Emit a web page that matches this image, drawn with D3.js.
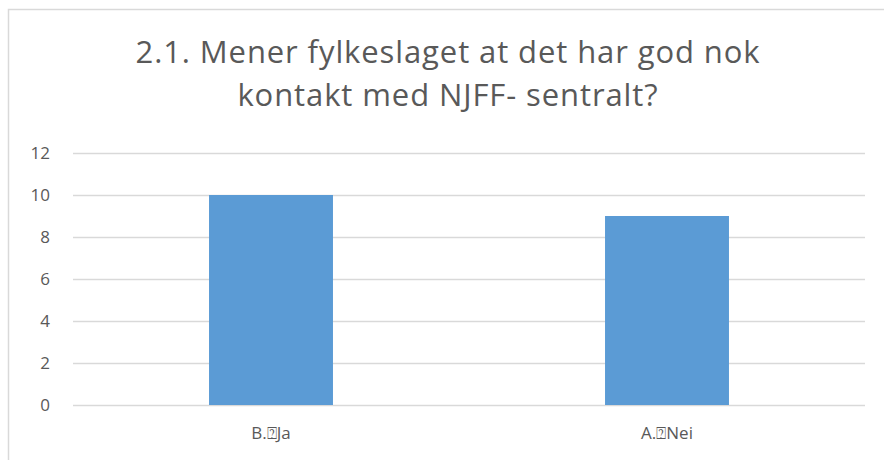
<!DOCTYPE html>
<html><head><meta charset="utf-8">
<script src="https://cdn.jsdelivr.net/npm/d3@7"></script>
<style>body{margin:0;background:#fff}svg{display:block}</style>
</head><body>
<script>
const categories = ["B.\u2370Ja", "A.\u2370Nei"];
const values = [10, 9];
const yTicks = [0, 2, 4, 6, 8, 10, 12];
const titleLines = ["2.1. Mener fylkeslaget at det har god nok", "kontakt med NJFF- sentralt?"];

const W = 884, H = 460;
const svg = d3.select("body").append("svg").attr("width", W).attr("height", H);
const font = "'Open Sans', sans-serif";

svg.append("rect").attr("x", 8.5).attr("y", 9.5).attr("width", 890).attr("height", 470)
  .attr("fill", "#fff").attr("stroke", "#d9d9d9").attr("stroke-width", 1.5);

const m = {left: 73, right: 865, top: 153, bottom: 405};
const x = d3.scaleBand().domain(categories).range([m.left, m.right]).paddingInner(0.687).paddingOuter(0.3435);
const y = d3.scaleLinear().domain([0, 12]).range([m.bottom, m.top]);

const yAxis = d3.axisLeft(y).tickValues(yTicks).tickSize(-(m.right - m.left)).tickPadding(23);
const gy = svg.append("g").attr("transform", `translate(${m.left},0)`).call(yAxis);
gy.select(".domain").remove();
gy.selectAll(".tick line").attr("stroke", "#d9d9d9").attr("stroke-width", 1.3);
gy.selectAll(".tick text").attr("fill", "#595959").attr("font-family", font).attr("font-size", 17);

svg.append("g").selectAll("rect").data(values).join("rect")
  .attr("x", (d, i) => x(categories[i]))
  .attr("width", x.bandwidth())
  .attr("y", d => y(d))
  .attr("height", d => y(0) - y(d))
  .attr("fill", "#5b9bd5");

const xAxis = d3.axisBottom(x).tickSize(0).tickPadding(22);
const gx = svg.append("g").attr("transform", `translate(0,${m.bottom})`).call(xAxis);
gx.select(".domain").remove();
gx.selectAll(".tick text").attr("fill", "#595959").attr("font-family", font).attr("font-size", 17);

svg.append("g").selectAll("text").data(titleLines).join("text")
  .attr("x", 448).attr("y", (d, i) => 63 + i * 43)
  .attr("text-anchor", "middle").attr("fill", "#595959")
  .attr("font-family", font).attr("font-size", 31).attr("letter-spacing", 0.9)
  .text(d => d);
</script>
</body></html>
